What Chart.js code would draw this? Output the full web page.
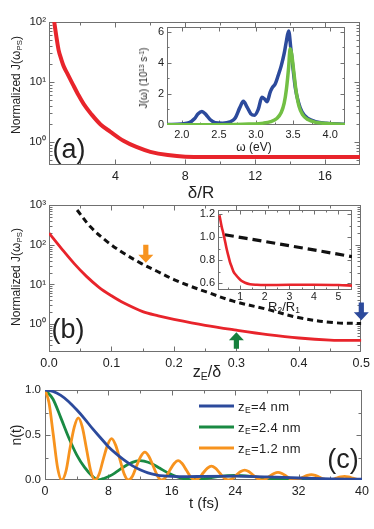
<!DOCTYPE html>
<html><head><meta charset="utf-8">
<script src="https://cdn.jsdelivr.net/npm/chart.js@4.4.1/dist/chart.umd.min.js"></script>
<style>
html,body{margin:0;padding:0;background:#fff;}
#wrap{position:relative;width:374px;height:529px;overflow:hidden;font-family:"Liberation Sans",Arial,sans-serif;color:#222;background:#fff;}
canvas{position:absolute;}
.t{position:absolute;white-space:nowrap;line-height:1;transform:translate(-50%,-50%);}
.rot{transform:translate(-50%,-50%) rotate(-90deg);}
.lg{position:absolute;white-space:nowrap;line-height:1;transform:translateY(-50%);}
.ln{position:absolute;height:3px;transform:translateY(-50%);}
sub{font-size:65%;vertical-align:-0.3em;line-height:0;}
sup{font-size:65%;vertical-align:0.45em;line-height:0;}
</style></head>
<body><div id="wrap"></div>
<script>
// ---------- DATA ----------
// (a) main: normalized J vs delta/R
const deltaR = [0.5,0.6,0.75,0.9,1.05,1.26,1.55,1.85,2.18,2.6,3.15,3.7,4.46,5.2,6.0,7.0,8.0,10,12,14,16,18];
const jNormA = [100,63,34,24,18,13.6,9.3,6.3,4.3,2.95,1.95,1.48,1.04,0.82,0.68,0.6,0.565,0.56,0.56,0.56,0.56,0.56];
const aXTicks = [4,8,12,16];
const aYTicks = [1,10,100];
// (a) inset: J(omega)
const omegaBlue = [1.8,2.0,2.1,2.17,2.22,2.27,2.32,2.38,2.45,2.55,2.65,2.72,2.78,2.83,2.88,2.93,2.98,3.03,3.08,3.12,3.15,3.19,3.22,3.26,3.3,3.34,3.38,3.41,3.44,3.47,3.5,3.53,3.57,3.62,3.7,3.8,3.95,4.2];
const jBlue = [0.03,0.07,0.15,0.4,0.72,0.86,0.7,0.35,0.15,0.12,0.2,0.45,1.1,1.52,1.15,0.72,0.62,1.0,1.78,1.65,1.5,2.1,2.4,2.65,3.2,3.8,4.6,5.4,6.05,4.9,3.6,2.4,1.5,0.85,0.42,0.22,0.11,0.05];
const omegaGreen = [1.8,2.5,2.9,3.1,3.2,3.28,3.34,3.38,3.41,3.44,3.46,3.48,3.51,3.54,3.58,3.63,3.7,3.8,4.0,4.2];
const jGreen = [0.01,0.02,0.06,0.12,0.22,0.42,0.8,1.4,2.3,3.7,4.9,4.6,3.4,2.2,1.2,0.65,0.35,0.18,0.08,0.04];
const insAXTicks = [2.0,2.5,3.0,3.5,4.0];
const insAYTicks = [0,2,4,6];
// (b) main: normalized J vs zE/delta
const zRed = [0,0.02,0.04,0.06,0.08,0.1,0.12,0.15,0.175,0.2,0.25,0.3,0.35,0.4,0.45,0.5];
const jRedB = [196,80,34,16,8.5,5.2,3.4,2.08,1.63,1.33,0.94,0.71,0.55,0.45,0.40,0.39];
const zDash = [0.045,0.066,0.093,0.119,0.146,0.173,0.2,0.226,0.252,0.295,0.348,0.401,0.455,0.5];
const jDashB = [750,287,120,62,35,21.5,13.3,9.1,6.5,3.8,2.4,1.45,1.1,1.04];
const bXTicks = [0,0.1,0.2,0.3,0.4,0.5];
const bYTicks = [1,10,100,1000];
const arrowZ = [0.155,0.30,0.5];
const arrowFrom = [100,0.24,3.5];
const arrowTo = [35,0.63,1.26];
// (b) inset: vs R2/R1
const rRed = [0.16,0.25,0.32,0.4,0.46,0.53,0.59,0.66,0.73,0.83,0.93,1.05,1.2,1.4,1.68,2.0,3.0,4.0,5.0,5.55];
const jRedIn = [1.19,1.09,1.03,0.95,0.89,0.83,0.78,0.74,0.70,0.67,0.645,0.62,0.603,0.59,0.585,0.583,0.585,0.585,0.583,0.578];
const rDash = [0.38,3.0,5.55];
const jDashIn = [1.02,0.925,0.83];
const insBXTicks = [1,2,3,4,5];
const insBYTicks = [0.6,0.8,1.0,1.2];
// (c) n(t)
const tBlue = [0,1,2,3,4,5,6,7,8,9,10,11,12,13,14,15,16,18,20,24,28,32,36,40];
const nBlue = [1.0,0.985,0.94,0.87,0.78,0.68,0.57,0.47,0.37,0.29,0.22,0.16,0.115,0.08,0.058,0.045,0.04,0.038,0.04,0.042,0.035,0.022,0.013,0.01];
const tGreen = [0,1,2,3,4,5,6,6.7,7.5,8.5,9.5,10.5,11.5,12,12.5,13.5,14.5,15.5,16.5,17.5,18.5,20,22,24,26,28,30,34,40];
const nGreen = [1.0,0.9,0.69,0.47,0.28,0.14,0.04,0.0,0.02,0.06,0.12,0.175,0.21,0.215,0.21,0.18,0.13,0.08,0.04,0.015,0.005,0.015,0.04,0.05,0.04,0.02,0.008,0.004,0.003];
const tOrange = [0,0.5,1.05,1.6,2.1,2.65,3.15,3.7,4.2,4.7,5.25,5.8,6.3,6.85,7.35,7.9,8.4,8.9,9.45,10.0,10.5,11.05,11.55,12.1,12.6,13.1,13.65,14.2,14.7,15.25,15.75,16.3,16.8,17.3,17.85,18.4,18.9,19.45,19.95,20.5,21.0,21.5,22.05,22.6,23.1,23.65,24.15,24.7,25.2,25.7,26.25,26.8,27.3,27.85,28.35,28.9,29.4,29.9,30.45,31.0,31.5,32.05,32.55,33.1,33.6,34.1,34.65,35.2,35.7,36.25,36.75,37.3,37.8,38.3,38.85,39.4,40];
const nOrange = [1.0,0.86,0.5,0.13,0,0.1,0.35,0.59,0.69,0.59,0.34,0.09,0,0.07,0.23,0.39,0.46,0.39,0.23,0.065,0,0.045,0.155,0.265,0.31,0.265,0.155,0.045,0,0.032,0.108,0.183,0.215,0.183,0.108,0.032,0,0.023,0.078,0.132,0.155,0.132,0.078,0.023,0,0.016,0.055,0.094,0.11,0.094,0.055,0.016,0,0.012,0.042,0.072,0.085,0.072,0.042,0.012,0,0.009,0.03,0.051,0.06,0.051,0.03,0.009,0,0.006,0.02,0.034,0.04,0.034,0.02,0.006,0];
const cXTicks = [0,8,16,24,32,40];
const cYTicks = [0,0.5,1.0];

// ---------- STYLE ----------
const FONT = '"Liberation Sans", Arial, sans-serif';
const RED = '#e8242b', BLUE = '#2c4a9c', GREEN = '#1a8a43', ORANGE = '#f7931e', LGREEN = '#72bf44';
const SUP = {'0':'\u2070','1':'\u00b9','2':'\u00b2','3':'\u00b3'};
const logFmt = v => '10' + SUP[String(Math.round(Math.log10(v)))];
const fix1 = v => Number(v).toFixed(1);
const intFmt = v => String(Math.round(v));
function logMinor(lo, hi){ const out=[]; for(let d=-1; d<=3; d++){ for(let m=2;m<=9;m++){ const v=m*Math.pow(10,d); if(v>lo&&v<hi) out.push(v);} } return out; }
function pts(xs, ys){ return xs.map((x,i)=>({x:x, y:ys[i]})); }
function ds(xs, ys, color, w, dash, smooth){
  const d = {data:pts(xs,ys), borderColor:color, borderWidth:w, borderDash:dash||[], pointRadius:0, fill:false, borderCapStyle:'butt', borderJoinStyle:'round'};
  if(smooth){ d.tension = 0.35; } else { d.cubicInterpolationMode = 'monotone'; }
  return d;
}

const framePlugin = {
  id:'frame',
  beforeDatasetsDraw(chart, args, opts){
    const ctx = chart.ctx, a = chart.chartArea, x = chart.scales.x, y = chart.scales.y;
    ctx.save(); ctx.strokeStyle = '#707070'; ctx.lineWidth = 1;
    const L=Math.round(a.left)+0.5, R=Math.round(a.right)-0.5, T=Math.round(a.top)+0.5, B=Math.round(a.bottom)-0.5;
    ctx.strokeRect(L,T,R-L,B-T);
    ctx.beginPath();
    const doX = (vals,len)=>vals.forEach(v=>{ const p=Math.round(x.getPixelForValue(v))+0.5; if(p<L-0.6||p>R+0.6) return; ctx.moveTo(p,B); ctx.lineTo(p,B-len); ctx.moveTo(p,T); ctx.lineTo(p,T+len); });
    const doY = (vals,len)=>vals.forEach(v=>{ const p=Math.round(y.getPixelForValue(v))+0.5; if(p<T-0.6||p>B+0.6) return; ctx.moveTo(L,p); ctx.lineTo(L+len,p); ctx.moveTo(R,p); ctx.lineTo(R-len,p); });
    doX(x.ticks.map(t=>t.value), opts.maj||5); doX(opts.xMinor||[], opts.mnr||3);
    doY(y.ticks.map(t=>t.value), opts.maj||5); doY(opts.yMinor||[], opts.mnr||3);
    ctx.stroke(); ctx.restore();
  }
};
const arrowPlugin = {
  id:'arrows',
  afterDatasetsDraw(chart, args, opts){
    if(!opts || !opts.xs) return;
    const ctx = chart.ctx, x = chart.scales.x, y = chart.scales.y;
    ctx.save();
    opts.xs.forEach((xv,i)=>{
      const px = x.getPixelForValue(xv), y0 = y.getPixelForValue(opts.from[i]), y1 = y.getPixelForValue(opts.to[i]);
      const dir = Math.sign(y1-y0), hl = 8, hw = 7.5, sw = 2.6, yb = y1 - dir*hl;
      ctx.fillStyle = opts.colors[i];
      ctx.beginPath();
      ctx.moveTo(px-sw,y0); ctx.lineTo(px+sw,y0); ctx.lineTo(px+sw,yb); ctx.lineTo(px+hw,yb);
      ctx.lineTo(px,y1); ctx.lineTo(px-hw,yb); ctx.lineTo(px-sw,yb); ctx.closePath(); ctx.fill();
    });
    ctx.restore();
  }
};

function panel(o){
  const c = document.createElement('canvas');
  c.width = o.w; c.height = o.h; c.style.left = o.left+'px'; c.style.top = o.top+'px';
  document.getElementById('wrap').appendChild(c);
  const yw = o.plot.l - o.left, xh = o.top + o.h - o.plot.b;
  const pad = {left:0, top:o.plot.t - o.top, right:o.left + o.w - o.plot.r, bottom:0};
  const axis = (a,isX)=>({
    type:a.type||'linear', min:a.min, max:a.max,
    afterBuildTicks: s => { s.ticks = a.ticks.map(v=>({value:v})); },
    afterFit: s => { if(isX) s.height = xh; else s.width = yw; },
    grid:{display:false, drawTicks:false}, border:{display:false},
    ticks:{autoSkip:false, maxRotation:0, minRotation:0, padding:a.pad, color:'#222', font:{family:FONT, size:a.fs}, callback:a.fmt}
  });
  return new Chart(c, {
    type:'line', data:{datasets:o.datasets},
    options:{responsive:false, animation:false, devicePixelRatio:1, events:[],
      layout:{padding:pad},
      plugins:{legend:{display:false}, tooltip:{enabled:false}, frame:{xMinor:o.xMinor, yMinor:o.yMinor, maj:o.maj, mnr:o.mnr}, arrows:o.arrows||{}},
      scales:{x:axis(o.x,true), y:axis(o.y,false)}},
    plugins:[framePlugin, arrowPlugin]
  });
}

// (a) main
panel({left:0, top:0, w:374, h:188, plot:{l:49,t:22,r:360,b:165},
  x:{min:0.2, max:18, ticks:aXTicks, fmt:intFmt, fs:12.5, pad:4},
  y:{type:'logarithmic', min:0.41, max:100, ticks:aYTicks, fmt:logFmt, fs:11.5, pad:3},
  xMinor:[2,6,10,14], yMinor:logMinor(0.41,100),
  datasets:[ds(deltaR, jNormA, RED, 4, null, true)]});
// (a) inset
panel({left:140, top:14, w:215, h:132, plot:{l:167,t:27,r:345,b:125},
  x:{min:1.8, max:4.2, ticks:insAXTicks, fmt:fix1, fs:11, pad:3},
  y:{min:0, max:6.3, ticks:insAYTicks, fmt:intFmt, fs:11, pad:3},
  xMinor:[2.25,2.75,3.25,3.75], yMinor:[1,3,5], maj:4, mnr:2,
  datasets:[ds(omegaGreen, jGreen, LGREEN, 3.5), ds(omegaBlue, jBlue, BLUE, 3.5)]});
// (b) main
panel({left:0, top:188, w:374, h:182, plot:{l:49,t:205,r:362,b:352},
  x:{min:0, max:0.5, ticks:bXTicks, fmt:fix1, fs:12.5, pad:4},
  y:{type:'logarithmic', min:0.2, max:1000, ticks:bYTicks, fmt:logFmt, fs:11.5, pad:3},
  xMinor:[0.05,0.15,0.25,0.35,0.45], yMinor:logMinor(0.2,1000),
  arrows:{xs:arrowZ, from:arrowFrom, to:arrowTo, colors:[ORANGE, '#16803d', BLUE]},
  datasets:[ds(zRed, jRedB, RED, 2.8, null, true), ds(zDash, jDashB, '#111', 3, [6,4], true)]});
// (b) inset
panel({left:194, top:200, w:166, h:102, plot:{l:218,t:210,r:352,b:290},
  x:{min:0.1, max:5.55, ticks:insBXTicks, fmt:intFmt, fs:10.5, pad:1},
  y:{min:0.54, max:1.235, ticks:insBYTicks, fmt:fix1, fs:11, pad:3},
  xMinor:[0.5,1.5,2.5,3.5,4.5], yMinor:[0.7,0.9,1.1], maj:4, mnr:2,
  datasets:[ds(rRed, jRedIn, RED, 2.6), ds(rDash, jDashIn, '#111', 3.2, [9,5])]});
// (c)
panel({left:0, top:378, w:374, h:122, plot:{l:45,t:390,r:362,b:480},
  x:{min:0, max:40, ticks:cXTicks, fmt:intFmt, fs:12.5, pad:4},
  y:{min:0, max:1, ticks:cYTicks, fmt:fix1, fs:11.5, pad:4},
  xMinor:[4,12,20,28,36], yMinor:[0.25,0.75],
  datasets:[ds(tBlue, nBlue, BLUE, 2.8), ds(tOrange, nOrange, ORANGE, 2.8), ds(tGreen, nGreen, GREEN, 2.8)]});

// ---------- TEXT ----------
const texts = [
  ['t rot', 16, 85, 12, 'Normalized J(\u03c9<sub>PS</sub>)'],
  ['t', 201, 192, 17, '\u03b4/R'],
  ['t', 69, 149, 27, '(a)'],
  ['t rot', 144, 78, 10, 'J(\u03c9) (10<sup>13</sup> s<sup>-1</sup>)'],
  ['t', 254, 147, 12, '\u03c9 (eV)'],
  ['t rot', 16, 277, 12, 'Normalized J(\u03c9<sub>PS</sub>)'],
  ['t', 207, 372, 16, 'z<sub>E</sub>/\u03b4'],
  ['t', 68, 329, 27, '(b)'],
  ['t', 284, 306, 13, 'R<sub>2</sub>/R<sub>1</sub>'],
  ['t rot', 16, 435, 14, 'n(t)'],
  ['t', 204, 502, 15, 't (fs)'],
  ['t', 343, 459, 27, '(c)']
];
const wrap = document.getElementById('wrap');
texts.forEach(([cls,x,y,fs,html])=>{ const d=document.createElement('div'); d.className=cls; d.style.left=x+'px'; d.style.top=y+'px'; d.style.fontSize=fs+'px'; d.innerHTML=html; wrap.appendChild(d); });
const legendNames = ['z<sub>E</sub>=4 nm','z<sub>E</sub>=2.4 nm','z<sub>E</sub>=1.2 nm'];
const legendColors = [BLUE, GREEN, ORANGE];
legendNames.forEach((n,i)=>{
  const yy = 406 + i*21;
  const l=document.createElement('div'); l.className='ln'; l.style.left='199px'; l.style.width='35px'; l.style.top=yy+'px'; l.style.background=legendColors[i]; wrap.appendChild(l);
  const t=document.createElement('div'); t.className='lg'; t.style.left='238px'; t.style.top=yy+'px'; t.style.fontSize='13px'; t.style.letterSpacing='0.4px'; t.innerHTML=n; wrap.appendChild(t);
});
</script></body></html>
